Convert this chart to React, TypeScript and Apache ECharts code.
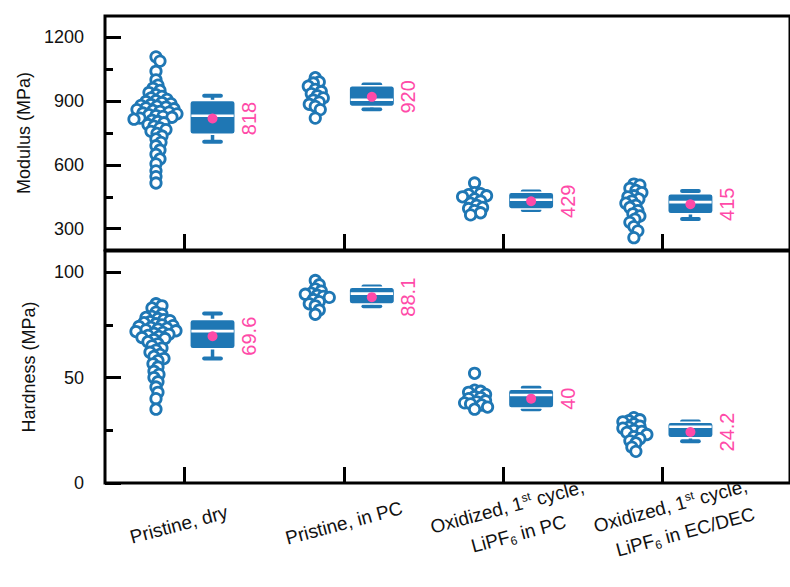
import React, { useEffect, useRef } from 'react';
import * as echarts from 'echarts';

// ---------------- data ----------------
const CATEGORY_LABELS = [
  '{p1|Pristine, dry}',
  'Pristine, in PC',
  '{s3|Oxidized, 1}{sup|st} cycle,\n{cpad|LiPF}{csub|6}{c| in PC}',
  '{s4|Oxidized, 1}{sup|st} cycle,\n{r|LiPF}{rsub|6}{r| in EC/DEC}',
];

// Modulus (MPa) individual measurements
const MODULUS_DRY = [1108, 1088, 1040, 1000, 975, 960, 950, 940, 930, 922, 915, 908, 902, 898, 893, 888, 884, 880, 876, 872, 868, 864, 860, 856, 852, 848, 844, 840, 836, 832, 828, 824, 820, 815, 810, 804, 798, 790, 782, 774, 766, 758, 748, 736, 722, 706, 690, 670, 650, 628, 605, 572, 545, 515];
const MODULUS_PC = [1010, 990, 985, 970, 955, 945, 935, 925, 915, 905, 895, 885, 875, 860, 820];
const MODULUS_OX_PC = [515, 470, 465, 460, 455, 450, 440, 430, 420, 410, 400, 395, 385, 375, 365];
const MODULUS_OX_ECDEC = [510, 505, 490, 480, 470, 455, 450, 440, 430, 420, 410, 400, 385, 370, 360, 345, 330, 310, 290, 258];

// Hardness (MPa) individual measurements
const HARDNESS_DRY = [85, 84, 83, 81, 80, 79, 78.5, 78, 77.5, 77, 76.5, 76, 75.5, 75, 74.6, 74.2, 73.8, 73.4, 73, 72.6, 72.2, 71.8, 71.4, 71, 70.5, 70, 69.5, 69, 68.5, 68, 67, 66, 65, 64, 63, 62, 61, 60, 59, 58, 56.5, 55, 53, 51.5, 50, 48, 45.5, 43, 40, 35];
const HARDNESS_PC = [96, 94, 92, 91, 90, 89.5, 89, 88.5, 88, 87, 86, 85, 84, 82, 80];
const HARDNESS_OX_PC = [52, 44, 43.5, 43, 42, 41, 40.5, 40, 39, 38.5, 38, 37.5, 37, 36, 35];
const HARDNESS_OX_ECDEC = [31, 30, 29.5, 29, 28, 27, 26.5, 26, 25, 24.5, 24, 23, 22, 21, 20, 19, 17, 15];

// box stats: [whisker low, Q1, median, Q3, whisker high]
const MODULUS_BOX = [
  [709, 744, 831, 903, 925],
  [862, 875, 906, 972, 978],
  [388, 393, 436, 472, 475],
  [346, 370, 425, 464, 477],
];
const MODULUS_MEAN = [818, 920, 429, 415];

const HARDNESS_BOX = [
  [59, 63.7, 72, 77.5, 80.4],
  [83.8, 84.9, 89.8, 92.8, 93.2],
  [35, 35.6, 41.7, 44.5, 45.2],
  [19.8, 21.4, 26.7, 28.8, 29.2],
];
const HARDNESS_MEAN = [69.6, 88.1, 40, 24.2];

const MODULUS_TICKS = [300, 600, 900, 1200];
const MODULUS_MINOR_TICKS = [450, 750, 1050];
const HARDNESS_TICKS = [0, 50, 100];
const HARDNESS_MINOR_TICKS = [25, 75];
const CATEGORY_TICKS = [1, 2, 3, 4];
// labels are split over two axes so that the close neighbours 3 and 4 are both kept
const LABEL_SET_A = [1, 2, 4];
const LABEL_SET_B = [3];

// ---------------- styling ----------------
const BLUE = '#1f77b4';
const PINK = '#ff4aa8';
const TEXT = '#111111';
const FONT = '"Liberation Sans", Arial, Helvetica, sans-serif';

const SCATTER_SHIFT = -0.18;
const BOX_SHIFT = 0.175;
const BOX_WIDTH = 0.285;
const CAP_WIDTH = 0.105;
const LABEL_SHIFT = 0.405;
const SWARM_DIST = 5.6;

function swarm(ys: number[], d: number): number[] {
  const placed: { x: number; y: number }[] = [];
  const out: number[] = [];
  ys.forEach((y, i) => {
    let best = 0;
    for (let k = 0; k < 400; k++) {
      const off = k === 0 ? 0 : (k % 2 ? 1 : -1) * Math.ceil(k / 2);
      let ok = true;
      for (const p of placed) {
        const dx = p.x - off;
        const dy = p.y - y;
        if (dx * dx + dy * dy < d * d) { ok = false; break; }
      }
      if (ok) { best = off; break; }
    }
    placed.push({ x: best, y });
    out[i] = best;
  });
  return out;
}

function scatterSeries(groups: number[][], gridIdx: number) {
  const data: number[][] = [];
  groups.forEach((vals, g) => vals.forEach((v, i) => data.push([g + 1, v, i])));
  const cache: Record<number, number[]> = {};
  return {
    type: 'custom',
    xAxisIndex: gridIdx,
    yAxisIndex: gridIdx * 2,
    data,
    encode: { x: 0, y: 1 },
    z: 3,
    renderItem: (_params: any, api: any) => {
      const g = api.value(0);
      const v = api.value(1);
      const i = api.value(2);
      if (!cache[g]) {
        const ys = groups[g - 1].map((val) => api.coord([g + SCATTER_SHIFT, val])[1]);
        cache[g] = swarm(ys, SWARM_DIST);
      }
      const p = api.coord([g + SCATTER_SHIFT, v]);
      return {
        type: 'circle',
        shape: { cx: p[0] + cache[g][i], cy: p[1], r: 5.2 },
        style: { fill: '#ffffff', stroke: BLUE, lineWidth: 2.8 },
      };
    },
  };
}

function boxSeries(box: number[][], mean: number[], gridIdx: number) {
  const data = box.map((b, g) => [g + 1, ...b, mean[g]]);
  return {
    type: 'custom',
    xAxisIndex: gridIdx,
    yAxisIndex: gridIdx * 2,
    data,
    encode: { x: 0, y: 1 },
    z: 4,
    renderItem: (_params: any, api: any) => {
      const g = api.value(0);
      const cx = g + BOX_SHIFT;
      const wl = api.value(1), q1 = api.value(2), med = api.value(3), q3 = api.value(4), wh = api.value(5), mv = api.value(6);
      const tl = api.coord([cx - BOX_WIDTH / 2, q3]);
      const br = api.coord([cx + BOX_WIDTH / 2, q1]);
      const pWl = api.coord([cx, wl]);
      const pWh = api.coord([cx, wh]);
      const pMed = api.coord([cx, med]);
      const pMean = api.coord([cx, mv]);
      const capL = api.coord([cx - CAP_WIDTH / 2, wh])[0];
      const capR = api.coord([cx + CAP_WIDTH / 2, wh])[0];
      const lab = api.coord([g + LABEL_SHIFT, mv]);
      const ws = { stroke: BLUE, lineWidth: 3.5 };
      return {
        type: 'group',
        children: [
          { type: 'line', shape: { x1: pWh[0], y1: pWh[1], x2: pWh[0], y2: tl[1] }, style: ws },
          { type: 'line', shape: { x1: pWl[0], y1: br[1], x2: pWl[0], y2: pWl[1] }, style: ws },
          { type: 'line', shape: { x1: capL, y1: pWh[1], x2: capR, y2: pWh[1] }, style: { stroke: BLUE, lineWidth: 4, lineCap: 'round' } },
          { type: 'line', shape: { x1: capL, y1: pWl[1], x2: capR, y2: pWl[1] }, style: { stroke: BLUE, lineWidth: 4, lineCap: 'round' } },
          {
            type: 'rect',
            shape: { x: tl[0], y: tl[1], width: br[0] - tl[0], height: br[1] - tl[1], r: 3 },
            style: { fill: BLUE, stroke: '#ffffff', lineWidth: 1.5 },
          },
          { type: 'line', shape: { x1: tl[0] + 1.5, y1: pMed[1], x2: br[0] - 1.5, y2: pMed[1] }, style: { stroke: '#ffffff', lineWidth: 2.6 } },
          { type: 'circle', shape: { cx: pMean[0], cy: pMean[1], r: 5 }, style: { fill: PINK } },
          {
            type: 'text',
            x: lab[0],
            y: lab[1],
            rotation: Math.PI / 2,
            style: {
              text: String(mv),
              fill: PINK,
              fontSize: 20,
              fontFamily: FONT,
              align: 'center',
              verticalAlign: 'middle',
            },
          },
        ],
      };
    },
  };
}

function yAxes(gridIdx: number, min: number, max: number, major: number[], minor: number[], name: string) {
  const tickStyle = { color: '#000', width: 3 };
  return [
    {
      type: 'value',
      gridIndex: gridIdx,
      position: 'left',
      min,
      max,
      name,
      nameLocation: 'middle',
      nameGap: 67,
      nameTextStyle: { fontSize: 18, color: TEXT, fontFamily: FONT },
      axisLine: { show: false },
      splitLine: { show: false },
      axisTick: { show: true, inside: true, length: 16, lineStyle: tickStyle, customValues: major },
      axisLabel: {
        show: true,
        margin: 21,
        fontSize: 18,
        color: TEXT,
        fontFamily: FONT,
        customValues: major,
        showMinLabel: true,
        showMaxLabel: true,
        formatter: (v: number) => String(v),
      },
    },
    {
      type: 'value',
      gridIndex: gridIdx,
      position: 'left',
      offset: 0,
      min,
      max,
      axisLine: { show: false },
      splitLine: { show: false },
      axisTick: { show: true, inside: true, length: 8, lineStyle: tickStyle, customValues: minor },
      axisLabel: { show: false },
    },
  ];
}

function categoryLabel(values: number[]) {
  const base = { fontSize: 19, lineHeight: 29, color: TEXT, fontFamily: FONT };
  const sub = { fontSize: 12, lineHeight: 12, verticalAlign: 'bottom', color: TEXT, fontFamily: FONT, padding: [0, 0, 3, 0] };
  return {
    show: true,
    customValues: values,
    formatter: (v: number) => CATEGORY_LABELS[Math.round(v) - 1],
    rotate: 15,
    margin: 40,
    align: 'center',
    verticalAlign: 'middle',
    ...base,
    hideOverlap: false,
    showMinLabel: true,
    showMaxLabel: true,
    rich: {
      p1: { ...base, padding: [0, 12, 0, 0] },
      s3: { ...base, padding: [0, 0, 0, 16] },
      s4: { ...base, padding: [0, 0, 0, 24] },
      sup: { fontSize: 12, lineHeight: 12, verticalAlign: 'top', color: TEXT, fontFamily: FONT, padding: [4, 0, 0, 0] },
      r: { ...base, align: 'right' },
      rsub: { ...sub, align: 'right' },
      c: { ...base, align: 'center' },
      cpad: { ...base, align: 'center', padding: [0, 0, 0, 24] },
      csub: { ...sub, align: 'center' },
    },
  };
}

function xAxis(gridIdx: number, labels: number[] | null, ticks: boolean) {
  return {
    type: 'value',
    gridIndex: gridIdx,
    position: 'bottom',
    offset: 0,
    min: 0.5,
    max: 4.8,
    axisLine: { show: false },
    splitLine: { show: false },
    axisTick: ticks
      ? { show: true, inside: true, length: 16, lineStyle: { color: '#000', width: 3 }, customValues: CATEGORY_TICKS }
      : { show: false },
    axisLabel: labels ? categoryLabel(labels) : { show: false },
  };
}

function buildOption() {
  return {
    animation: false,
    backgroundColor: '#ffffff',
    textStyle: { fontFamily: FONT },
    grid: [
      { left: 105, top: 16, width: 700, height: 234, show: true, borderColor: '#000', borderWidth: 3, backgroundColor: 'transparent' },
      { left: 105, top: 251, width: 700, height: 232, show: true, borderColor: '#000', borderWidth: 3, backgroundColor: 'transparent' },
    ],
    xAxis: [xAxis(0, null, true), xAxis(1, LABEL_SET_A, true), xAxis(1, LABEL_SET_B, false)],
    yAxis: [
      ...yAxes(0, 200, 1300, MODULUS_TICKS, MODULUS_MINOR_TICKS, 'Modulus (MPa)'),
      ...yAxes(1, 0, 110, HARDNESS_TICKS, HARDNESS_MINOR_TICKS, 'Hardness (MPa)'),
    ],
    series: [
      scatterSeries([MODULUS_DRY, MODULUS_PC, MODULUS_OX_PC, MODULUS_OX_ECDEC], 0),
      boxSeries(MODULUS_BOX, MODULUS_MEAN, 0),
      scatterSeries([HARDNESS_DRY, HARDNESS_PC, HARDNESS_OX_PC, HARDNESS_OX_ECDEC], 1),
      boxSeries(HARDNESS_BOX, HARDNESS_MEAN, 1),
    ],
  };
}

export default function App() {
  const ref = useRef<HTMLDivElement>(null);
  useEffect(() => {
    if (!ref.current) return;
    const chart = echarts.init(ref.current, null, { renderer: 'svg' });
    chart.setOption(buildOption() as any);
    return () => chart.dispose();
  }, []);
  return <div ref={ref} style={{ position: 'fixed', left: 0, top: 0, width: 790, height: 587, background: '#fff' }} />;
}
